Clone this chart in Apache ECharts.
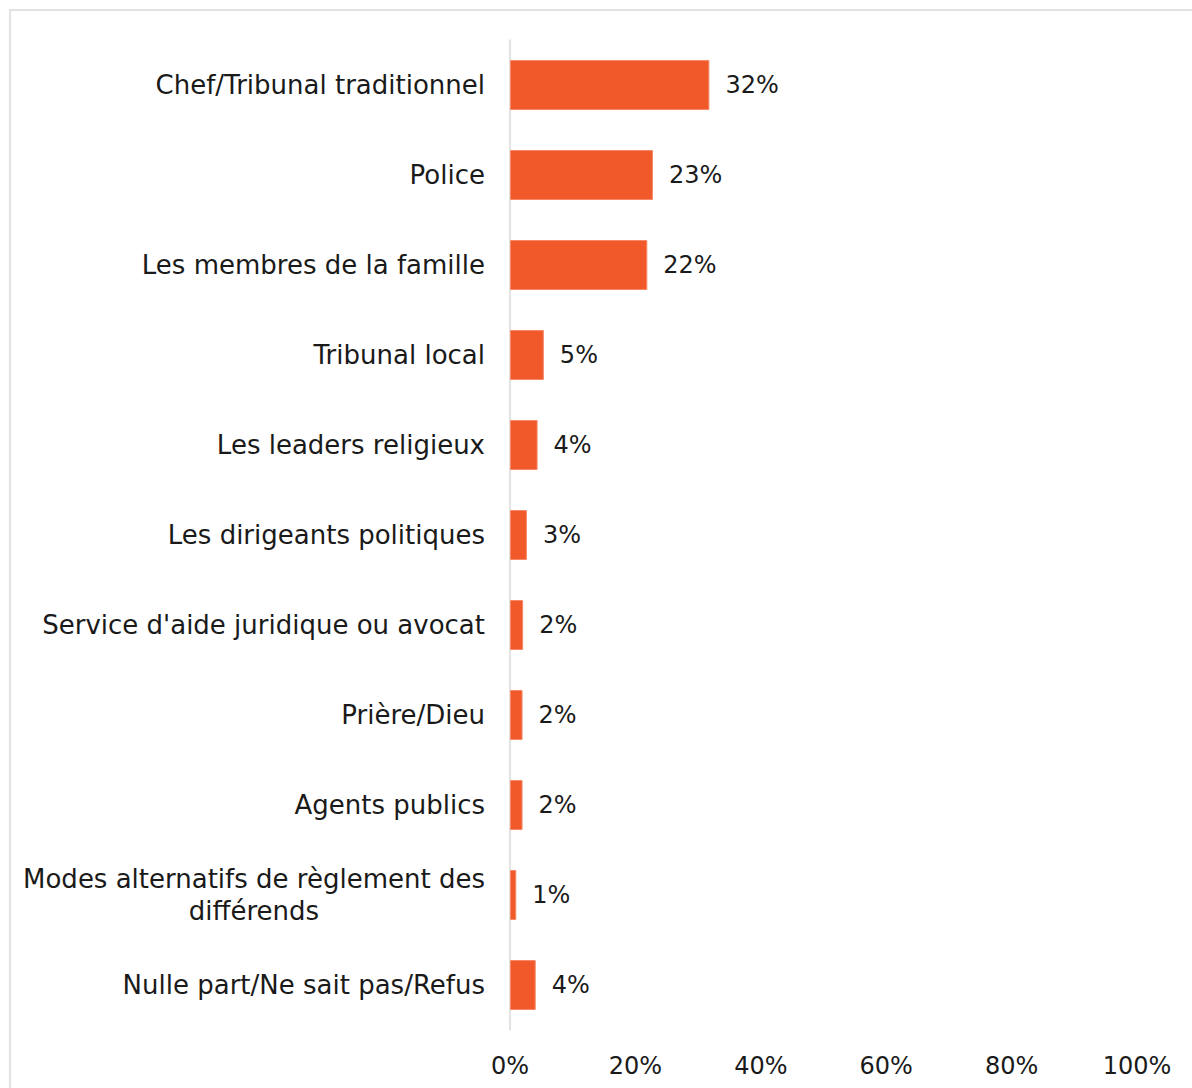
<!DOCTYPE html>
<html>
<head>
<meta charset="utf-8">
<script src="https://cdn.jsdelivr.net/npm/echarts@6/dist/echarts.min.js"></script>
<style>
  html, body { margin: 0; padding: 0; background: #fff; }
  #chart { width: 1192px; height: 1088px; }
</style>
</head>
<body>
<div id="chart"></div>
<script>
const categories = [
    "Chef/Tribunal traditionnel",
    "Police",
    "Les membres de la famille",
    "Tribunal local",
    "Les leaders religieux",
    "Les dirigeants politiques",
    "Service d'aide juridique ou avocat",
    "Prière/Dieu",
    "Agents publics",
    "Modes alternatifs de règlement des\ndifférends",
    "Nulle part/Ne sait pas/Refus"
];
const values = [31.8, 22.8, 21.9, 5.4, 4.4, 2.7, 2.1, 2.0, 2.0, 1.0, 4.1];
const valueLabels = ["32%", "23%", "22%", "5%", "4%", "3%", "2%", "2%", "2%", "1%", "4%"];

const font = "'DejaVu Sans', sans-serif";
const textColor = "#1a1a1a";

let initChart = option => {
    const chart = echarts.init(document.querySelector("#chart"), null, { renderer: "svg" });
    chart.setOption(option);
    return chart;
};

let option = {
    animation: false,
    backgroundColor: "#fff",
    graphic: [{
        type: "rect",
        shape: { x: 10, y: 10, width: 1200, height: 1100 },
        style: { fill: "none", stroke: "#d9d9d9", lineWidth: 1.5 },
        silent: true
    }],
    grid: { left: 510, right: 55, top: 40, bottom: 58, containLabel: false },
    xAxis: {
        type: "value",
        min: 0,
        max: 100,
        interval: 20,
        splitLine: { show: false },
        axisLine: { show: false },
        axisTick: { show: false },
        axisLabel: {
            formatter: "{value}%",
            margin: 24,
            fontFamily: font,
            fontSize: 24,
            color: textColor
        }
    },
    yAxis: {
        type: "category",
        inverse: true,
        data: categories,
        axisLine: { show: true, lineStyle: { color: "#d9d9d9", width: 1.5 } },
        axisTick: { show: false },
        axisLabel: {
            margin: 25,
            fontFamily: font,
            fontSize: 26,
            color: textColor,
            lineHeight: 32,
            formatter: v => v.indexOf("\n") >= 0
                ? v.split("\n").map(s => "{w|" + s + "}").join("\n")
                : v,
            rich: {
                w: { width: 462, align: "center", fontFamily: font, fontSize: 26, color: textColor, lineHeight: 32 }
            }
        }
    },
    series: [{
        type: "bar",
        data: values,
        barWidth: 50,
        itemStyle: { color: "#f1592b", borderColor: "#f58a68", borderWidth: 1 },
        label: {
            show: true,
            position: "right",
            distance: 16,
            fontFamily: font,
            fontSize: 24,
            color: textColor,
            formatter: p => valueLabels[p.dataIndex]
        }
    }]
};

initChart(option);
</script>
</body>
</html>
